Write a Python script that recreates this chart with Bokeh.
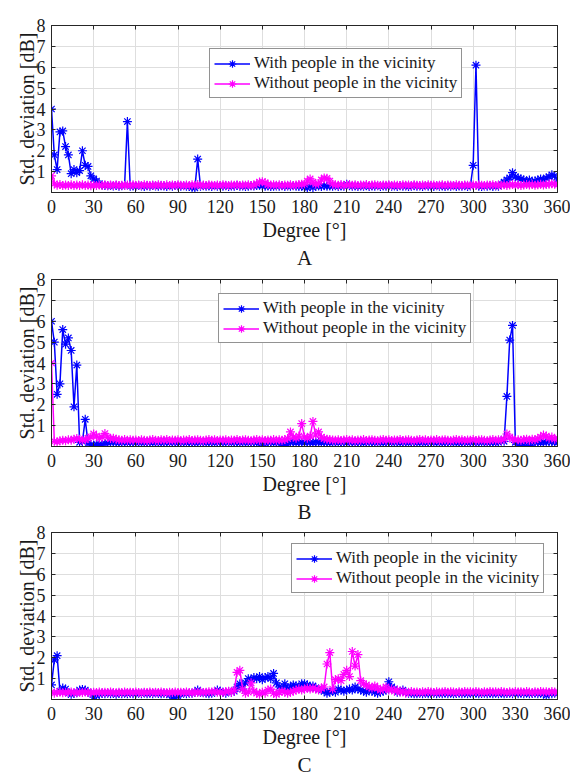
from bokeh.plotting import figure
from bokeh.layouts import column
from bokeh.models import (Range1d, LinearAxis, FixedTicker, Legend, LegendItem, Title)
from bokeh.embed import file_html
from bokeh.resources import INLINE

# ---------------- data ----------------
DEG = list(range(0, 361, 2))
X_TICKS = [0, 30, 60, 90, 120, 150, 180, 210, 240, 270, 300, 330, 360]
Y_TICKS = [1, 2, 3, 4, 5, 6, 7, 8]
LABEL_WITH = "With people in the vicinity"
LABEL_WITHOUT = "Without people in the vicinity"
PANEL_LETTERS = ["A", "B", "C"]

a_with = [
    4.0, 1.8, 1.1, 2.9, 2.95, 2.2, 1.8, 0.9, 1.1, 0.95,
    1.05, 2.0, 1.3, 1.25, 0.8, 0.65, 0.55, 0.42, 0.36, 0.33,
    0.32, 0.34, 0.31, 0.33, 0.3, 0.32, 0.34, 3.4, 0.3, 0.31,
    0.3, 0.33, 0.31, 0.29, 0.32, 0.3, 0.33, 0.31, 0.3, 0.32,
    0.31, 0.29, 0.32, 0.3, 0.33, 0.31, 0.3, 0.32, 0.3, 0.29,
    0.25, 0.22, 1.6, 0.3, 0.32, 0.3, 0.31, 0.29, 0.32, 0.3,
    0.31, 0.3, 0.32, 0.29, 0.31, 0.3, 0.33, 0.3, 0.31, 0.29,
    0.3, 0.32, 0.31, 0.33, 0.35, 0.32, 0.3, 0.31, 0.29, 0.3,
    0.31, 0.3, 0.32, 0.29, 0.31, 0.3, 0.32, 0.3, 0.29, 0.31,
    0.25, 0.22, 0.3, 0.24, 0.3, 0.31, 0.29, 0.32, 0.3, 0.31,
    0.3, 0.32, 0.29, 0.31, 0.3, 0.4, 0.32, 0.3, 0.31, 0.29,
    0.31, 0.3, 0.32, 0.29, 0.31, 0.3, 0.32, 0.29, 0.31, 0.3,
    0.32, 0.3, 0.31, 0.29, 0.32, 0.3, 0.31, 0.29, 0.3, 0.32,
    0.3, 0.31, 0.29, 0.32, 0.3, 0.31, 0.29, 0.32, 0.3, 0.31,
    0.29, 0.31, 0.3, 0.32, 0.29, 0.31, 0.3, 0.32, 0.29, 0.31,
    1.3, 6.1, 0.3, 0.29, 0.31, 0.3, 0.32, 0.29, 0.31, 0.3,
    0.4, 0.5, 0.6, 0.7, 0.95, 0.75, 0.7, 0.65, 0.6, 0.55,
    0.6, 0.5, 0.55, 0.6, 0.65, 0.6, 0.7, 0.75, 0.85, 0.8,
    0.6]

a_without = [
    0.8, 0.42, 0.35, 0.38, 0.33, 0.36, 0.34, 0.37, 0.33, 0.36,
    0.34, 0.37, 0.33, 0.36, 0.32, 0.35, 0.33, 0.36, 0.34, 0.37,
    0.33, 0.36, 0.34, 0.37, 0.33, 0.35, 0.34, 0.36, 0.33, 0.37,
    0.34, 0.36, 0.33, 0.37, 0.35, 0.34, 0.36, 0.33, 0.37, 0.35,
    0.34, 0.37, 0.33, 0.36, 0.34, 0.37, 0.35, 0.33, 0.36, 0.34,
    0.37, 0.35, 0.38, 0.34, 0.36, 0.33, 0.37, 0.35, 0.34, 0.36,
    0.33, 0.37, 0.35, 0.34, 0.36, 0.35, 0.37, 0.34, 0.36, 0.35,
    0.37, 0.34, 0.36, 0.42, 0.5, 0.52, 0.47, 0.38, 0.36, 0.37,
    0.35, 0.37, 0.34, 0.36, 0.35, 0.37, 0.34, 0.36, 0.38, 0.4,
    0.4, 0.55, 0.65, 0.5, 0.4, 0.42, 0.6, 0.7, 0.68, 0.55,
    0.4, 0.37, 0.35, 0.38, 0.34, 0.36, 0.38, 0.35, 0.37, 0.34,
    0.36, 0.35, 0.38, 0.34, 0.36, 0.37, 0.35, 0.33, 0.36, 0.35,
    0.37, 0.34, 0.36, 0.35, 0.33, 0.37, 0.35, 0.36, 0.34, 0.37,
    0.35, 0.33, 0.36, 0.34, 0.37, 0.35, 0.36, 0.34, 0.35, 0.37,
    0.34, 0.36, 0.35, 0.33, 0.37, 0.35, 0.34, 0.36, 0.35, 0.34,
    0.36, 0.34, 0.37, 0.35, 0.33, 0.36, 0.35, 0.37, 0.34, 0.36,
    0.35, 0.37, 0.34, 0.36, 0.38, 0.35, 0.37, 0.34, 0.36, 0.38,
    0.36, 0.38, 0.35, 0.37, 0.39, 0.36, 0.38, 0.4, 0.42, 0.39,
    0.38]

b_with = [
    6.0, 5.0, 2.5, 3.0, 5.6, 4.9, 5.2, 4.6, 1.9, 3.9,
    0.2, 0.25, 1.3, 0.15, 0.08, 0.06, 0.1, 0.12, 0.1, 0.15,
    0.18, 0.2, 0.22, 0.2, 0.18, 0.2, 0.22, 0.19, 0.21, 0.2,
    0.19, 0.21, 0.2, 0.18, 0.22, 0.2, 0.19, 0.21, 0.2, 0.18,
    0.2, 0.22, 0.19, 0.21, 0.2, 0.18, 0.2, 0.22, 0.19, 0.21,
    0.2, 0.18, 0.21, 0.2, 0.22, 0.19, 0.2, 0.21, 0.18, 0.2,
    0.21, 0.19, 0.2, 0.22, 0.18, 0.2, 0.21, 0.19, 0.2, 0.22,
    0.19, 0.2, 0.21, 0.18, 0.2, 0.06, 0.19, 0.21, 0.2, 0.18,
    0.2, 0.21, 0.08, 0.05, 0.19, 0.2, 0.22, 0.19, 0.21, 0.2,
    0.19, 0.21, 0.2, 0.18, 0.22, 0.2, 0.19, 0.21, 0.2, 0.18,
    0.2, 0.22, 0.19, 0.21, 0.2, 0.18, 0.2, 0.22, 0.19, 0.21,
    0.2, 0.18, 0.21, 0.2, 0.22, 0.19, 0.2, 0.21, 0.18, 0.2,
    0.21, 0.19, 0.2, 0.22, 0.18, 0.2, 0.21, 0.19, 0.2, 0.22,
    0.19, 0.2, 0.21, 0.18, 0.2, 0.22, 0.19, 0.21, 0.2, 0.18,
    0.2, 0.22, 0.19, 0.21, 0.2, 0.18, 0.2, 0.22, 0.19, 0.21,
    0.2, 0.18, 0.21, 0.2, 0.22, 0.19, 0.2, 0.21, 0.18, 0.2,
    0.3, 0.25, 2.4, 5.1, 5.8, 0.2, 0.1, 0.05, 0.15, 0.2,
    0.05, 0.2, 0.22, 0.2, 0.18, 0.22, 0.2, 0.25, 0.22, 0.2,
    0.2]

b_without = [
    4.0, 0.25, 0.22, 0.27, 0.3, 0.28, 0.32, 0.3, 0.35, 0.38,
    0.35, 0.3, 0.32, 0.4, 0.45, 0.6, 0.5, 0.4, 0.45, 0.62,
    0.45, 0.38, 0.4, 0.35, 0.32, 0.3, 0.33, 0.3, 0.32, 0.3,
    0.31, 0.29, 0.32, 0.3, 0.28, 0.31, 0.33, 0.3, 0.29, 0.32,
    0.3, 0.33, 0.29, 0.31, 0.3, 0.32, 0.28, 0.31, 0.3, 0.33,
    0.29, 0.31, 0.32, 0.3, 0.28, 0.31, 0.33, 0.3, 0.32, 0.29,
    0.31, 0.3, 0.32, 0.28, 0.31, 0.3, 0.33, 0.29, 0.31, 0.32,
    0.3, 0.28, 0.31, 0.33, 0.3, 0.32, 0.29, 0.31, 0.3, 0.33,
    0.3, 0.32, 0.3, 0.33, 0.38, 0.7, 0.45, 0.4, 0.5, 1.1,
    0.45, 0.4, 0.5, 1.2, 0.55, 0.7, 0.45, 0.38, 0.35, 0.33,
    0.31, 0.3, 0.32, 0.29, 0.31, 0.33, 0.3, 0.32, 0.28, 0.31,
    0.3, 0.33, 0.29, 0.31, 0.32, 0.3, 0.28, 0.31, 0.33, 0.3,
    0.32, 0.29, 0.31, 0.3, 0.33, 0.29, 0.31, 0.32, 0.3, 0.28,
    0.31, 0.33, 0.3, 0.32, 0.29, 0.31, 0.3, 0.33, 0.29, 0.31,
    0.32, 0.3, 0.28, 0.31, 0.33, 0.3, 0.32, 0.29, 0.31, 0.3,
    0.33, 0.29, 0.31, 0.32, 0.3, 0.28, 0.31, 0.33, 0.3, 0.32,
    0.3, 0.35, 0.6, 0.45, 0.35, 0.3, 0.32, 0.3, 0.33, 0.35,
    0.3, 0.35, 0.32, 0.38, 0.45, 0.55, 0.5, 0.4, 0.45, 0.35,
    0.4]

c_with = [
    0.7, 1.9, 2.1, 0.4, 0.55, 0.5, 0.3, 0.25, 0.3, 0.32,
    0.45, 0.48, 0.45, 0.35, 0.3, 0.12, 0.2, 0.25, 0.3, 0.28,
    0.3, 0.28, 0.3, 0.25, 0.3, 0.28, 0.3, 0.27, 0.3, 0.28,
    0.27, 0.3, 0.28, 0.31, 0.27, 0.3, 0.28, 0.31, 0.29, 0.27,
    0.3, 0.28, 0.25, 0.12, 0.1, 0.15, 0.27, 0.3, 0.28, 0.3,
    0.3, 0.35, 0.45, 0.33, 0.32, 0.3, 0.28, 0.3, 0.35, 0.45,
    0.4, 0.35, 0.3, 0.38, 0.35, 0.4, 0.6, 0.75, 0.5, 0.8,
    1.0, 0.95, 1.05, 1.0, 1.1, 0.95, 1.05, 1.1, 1.0, 1.25,
    0.8, 0.6, 0.55, 0.75, 0.5, 0.6, 0.7, 0.65, 0.6, 0.75,
    0.75, 0.7, 0.6, 0.65, 0.55, 0.5, 0.45, 0.4, 0.3, 0.35,
    0.4, 0.35, 0.5, 0.45, 0.4, 0.45, 0.5, 0.45, 0.6, 0.5,
    0.45, 0.4, 0.35, 0.45, 0.4, 0.35, 0.3, 0.35, 0.4, 0.45,
    0.85, 0.6, 0.5, 0.35, 0.4, 0.45, 0.35, 0.3, 0.3, 0.28,
    0.27, 0.3, 0.28, 0.3, 0.27, 0.29, 0.3, 0.28, 0.3, 0.27,
    0.3, 0.28, 0.3, 0.27, 0.29, 0.3, 0.28, 0.3, 0.27, 0.3,
    0.28, 0.3, 0.27, 0.29, 0.3, 0.28, 0.3, 0.27, 0.3, 0.28,
    0.3, 0.27, 0.29, 0.3, 0.28, 0.3, 0.27, 0.3, 0.28, 0.3,
    0.27, 0.29, 0.3, 0.28, 0.3, 0.27, 0.2, 0.3, 0.28, 0.3,
    0.3]

c_without = [
    0.35, 0.3, 0.33, 0.36, 0.32, 0.35, 0.33, 0.36, 0.34, 0.32,
    0.35, 0.33, 0.36, 0.34, 0.32, 0.35, 0.33, 0.36, 0.34, 0.35,
    0.33, 0.36, 0.34, 0.32, 0.35, 0.33, 0.36, 0.34, 0.35, 0.33,
    0.36, 0.34, 0.32, 0.35, 0.33, 0.36, 0.34, 0.35, 0.33, 0.36,
    0.34, 0.32, 0.35, 0.33, 0.36, 0.34, 0.35, 0.33, 0.36, 0.34,
    0.32, 0.35, 0.33, 0.36, 0.34, 0.35, 0.37, 0.36, 0.38, 0.35,
    0.35, 0.33, 0.38, 0.4, 0.35, 0.45, 1.3, 1.4, 0.5, 0.3,
    0.35, 0.8, 0.4, 0.3, 0.25, 0.35, 0.3, 0.45, 0.5, 0.3,
    0.25, 0.35, 0.4, 0.35, 0.3, 0.35, 0.4, 0.45, 0.5, 0.45,
    0.5, 0.55, 0.5, 0.55, 0.5, 0.45, 0.55, 0.6, 1.7, 2.25,
    0.5, 0.95, 1.0, 0.9, 1.2, 1.4, 1.1, 2.3, 1.6, 2.15,
    0.9, 0.75, 0.7, 0.6, 0.55, 0.65, 0.55, 0.45, 0.5, 0.6,
    0.45, 0.5, 0.4, 0.45, 0.35, 0.4, 0.3, 0.35, 0.38, 0.35,
    0.36, 0.34, 0.37, 0.35, 0.38, 0.36, 0.34, 0.37, 0.35, 0.36,
    0.38, 0.35, 0.37, 0.36, 0.34, 0.37, 0.35, 0.38, 0.36, 0.37,
    0.35, 0.38, 0.36, 0.34, 0.37, 0.35, 0.38, 0.36, 0.37, 0.35,
    0.38, 0.36, 0.34, 0.37, 0.35, 0.38, 0.36, 0.37, 0.35, 0.38,
    0.36, 0.34, 0.37, 0.35, 0.38, 0.36, 0.37, 0.35, 0.38, 0.36,
    0.35]

# ---------------- style ----------------
FONT = "Liberation Serif"
BLUE = "#0000FF"
MAGENTA = "#FF00FF"
AXC = "#262626"
TXT = "#1a1a1a"
GRIDC = "#dedede"


def make_panel(letter, y_with, y_without, leg_xy, top):
    p = figure(frame_width=506, frame_height=167, output_backend="svg",
               toolbar_location=None,
               x_range=Range1d(0, 360), y_range=Range1d(0, 8),
               min_border_left=51, min_border_right=13, min_border_top=top,
               min_border_bottom=0,
               background_fill_color="white", border_fill_color="white")
    p.outline_line_color = AXC
    p.outline_line_width = 1

    for ax in (p.xaxis[0], p.yaxis[0]):
        ax.major_tick_in = 4
        ax.major_tick_out = 0
        ax.minor_tick_line_color = None
        ax.axis_line_color = AXC
        ax.major_tick_line_color = AXC
        ax.major_label_text_font = FONT
        ax.major_label_text_font_size = "18px"
        ax.major_label_text_color = TXT
        ax.axis_label_text_font = FONT
        ax.axis_label_text_font_style = "normal"
        ax.axis_label_text_font_size = "20px"
        ax.axis_label_text_color = TXT
    p.xaxis[0].ticker = FixedTicker(ticks=X_TICKS)
    p.yaxis[0].ticker = FixedTicker(ticks=Y_TICKS)
    p.xaxis[0].axis_label = "Degree [°]"
    p.xaxis[0].major_label_standoff = 7
    p.xaxis[0].axis_label_standoff = 3
    p.yaxis[0].axis_label = "Std. deviation [dB]"
    p.yaxis[0].major_label_standoff = 6
    p.yaxis[0].axis_label_standoff = -4

    # box-style ticks on top and right (no labels drawn)
    for loc, tick in (("above", X_TICKS), ("right", Y_TICKS)):
        ax = LinearAxis(ticker=FixedTicker(ticks=tick), major_tick_in=4,
                        major_tick_out=0, minor_tick_line_color=None,
                        major_label_text_color=None, major_label_standoff=0,
                        major_label_text_font=FONT, major_label_text_font_size="1px",
                        axis_line_color=AXC, major_tick_line_color=AXC)
        p.add_layout(ax, loc)

    p.xgrid.ticker = FixedTicker(ticks=X_TICKS)
    p.ygrid.ticker = FixedTicker(ticks=Y_TICKS)
    p.xgrid.grid_line_color = GRIDC
    p.ygrid.grid_line_color = GRIDC

    lw = p.line(DEG, y_with, line_color=BLUE, line_width=1.5)
    mw = p.scatter(DEG, y_with, marker="asterisk", size=9, line_color=BLUE, line_width=1.2)
    lo = p.line(DEG, y_without, line_color=MAGENTA, line_width=1.5)
    mo = p.scatter(DEG, y_without, marker="asterisk", size=9, line_color=MAGENTA, line_width=1.2)

    legend = Legend(items=[LegendItem(label=LABEL_WITH, renderers=[lw, mw]),
                           LegendItem(label=LABEL_WITHOUT, renderers=[lo, mo])],
                    location=leg_xy)
    legend.label_text_font = FONT
    legend.label_text_font_size = "17px"
    legend.label_text_color = TXT
    legend.glyph_width = 36
    legend.glyph_height = 19
    legend.label_height = 19
    legend.label_standoff = 4
    legend.spacing = 0
    legend.padding = 4
    legend.margin = 0
    legend.border_line_color = AXC
    legend.border_line_width = 1
    legend.background_fill_color = "white"
    legend.background_fill_alpha = 1
    p.add_layout(legend)

    p.add_layout(Title(text=letter, align="center", text_font=FONT,
                       text_font_size="21px", text_font_style="normal",
                       text_color=TXT, standoff=0, offset=0), "below")
    return p


pa = make_panel(PANEL_LETTERS[0], a_with, a_without, (158, 94), 25)
pb = make_panel(PANEL_LETTERS[1], b_with, b_without, (167, 103), 10)
pc = make_panel(PANEL_LETTERS[2], c_with, c_without, (240, 106), 9)

layout = column(pa, pb, pc, spacing=0)
open("out.html", "w").write(file_html(layout, INLINE))
